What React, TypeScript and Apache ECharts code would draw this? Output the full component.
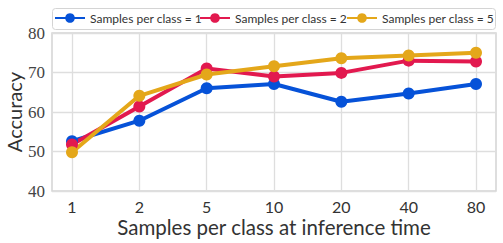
import React, { useEffect, useRef } from "react";
import * as echarts from "echarts";

const categories = ["1", "2", "5", "10", "20", "40", "80"];
const seriesNames = ["Samples per class = 1", "Samples per class = 2", "Samples per class = 5"];
const spc1 = [52.6, 57.8, 66.0, 67.1, 62.6, 64.7, 67.1];
const spc2 = [51.8, 61.4, 71.0, 69.0, 69.9, 73.0, 72.8];
const spc5 = [49.8, 64.1, 69.5, 71.6, 73.6, 74.3, 75.0];
const yTicks = [40, 50, 60, 70, 80];
const colors = ["#0652d8", "#e2194f", "#e4a71a"];
const legendLefts = [54, 199, 346];

export default function App() {
  const ref = useRef<HTMLDivElement>(null);
  useEffect(() => {
    if (!ref.current) return;
    const chart = echarts.init(ref.current, null, { renderer: "svg" });
    const values = [spc1, spc2, spc5];
    const gridTop = 33;
    const gridBottom = 52;
    chart.setOption({
      animation: false,
      backgroundColor: "#ffffff",
      graphic: [
        {
          type: "rect",
          z: 0,
          shape: { x: 52.5, y: 8.5, width: 443, height: 21, r: 3 },
          style: { fill: "#ffffff", stroke: "#d4d4d4", lineWidth: 1 },
        },
      ],
      legend: seriesNames.map((name, i) => ({
        top: 12,
        left: legendLefts[i],
        itemWidth: 30,
        itemHeight: 12,
        itemGap: 0,
        padding: 0,
        textStyle: { fontFamily: "Lato", fontSize: 12, color: "#333333" },
        data: [name],
      })),
      grid: [
        {
          left: 52,
          right: 7,
          top: gridTop,
          bottom: gridBottom,
          show: true,
          borderColor: "#d4d4d4",
          borderWidth: 1.5,
          backgroundColor: "transparent",
          outerBoundsMode: "none",
          containLabel: false,
        },
        {
          left: 72,
          right: 27,
          top: gridTop,
          bottom: gridBottom,
          outerBoundsMode: "none",
          containLabel: false,
        },
      ],
      xAxis: [
        {
          gridIndex: 0,
          type: "value",
          min: 0,
          max: 1,
          show: false,
        },
        {
          gridIndex: 1,
          type: "category",
          data: categories,
          boundaryGap: false,
          axisLine: { show: false },
          axisTick: { show: false },
          axisLabel: {
            margin: 7,
            fontFamily: "Lato",
            fontSize: 16,
            color: "#333333",
          },
          splitLine: { show: true, lineStyle: { color: "#dedede", width: 1.3 } },
          name: "Samples per class at inference time",
          nameLocation: "middle",
          nameGap: 25,
          nameMoveOverlap: false,
          nameTextStyle: { fontFamily: "Lato", fontSize: 20.5, color: "#333333" },
        },
      ],
      yAxis: [
        {
          gridIndex: 0,
          type: "value",
          min: yTicks[0],
          max: yTicks[yTicks.length - 1],
          interval: 10,
          axisLine: { show: false },
          axisTick: { show: false },
          axisLabel: {
            margin: 7,
            fontFamily: "Liberation Serif",
            fontSize: 17,
            color: "#444444",
          },
          splitLine: { show: true, lineStyle: { color: "#dedede", width: 1.3 } },
          name: "Accuracy",
          nameLocation: "middle",
          nameGap: 28,
          nameMoveOverlap: false,
          nameTextStyle: { fontFamily: "Lato", fontSize: 20, color: "#333333" },
        },
        {
          gridIndex: 1,
          type: "value",
          min: yTicks[0],
          max: yTicks[yTicks.length - 1],
          show: false,
        },
      ],
      series: seriesNames.map((name, i) => ({
        name,
        type: "line",
        xAxisIndex: 1,
        yAxisIndex: 1,
        data: values[i],
        symbol: "circle",
        symbolSize: 12,
        lineStyle: { width: 4, color: colors[i] },
        itemStyle: { color: colors[i] },
        color: colors[i],
      })),
    });
    return () => chart.dispose();
  }, []);
  return <div ref={ref} style={{ width: 503, height: 243, position: "absolute", left: 0, top: 0 }} />;
}
